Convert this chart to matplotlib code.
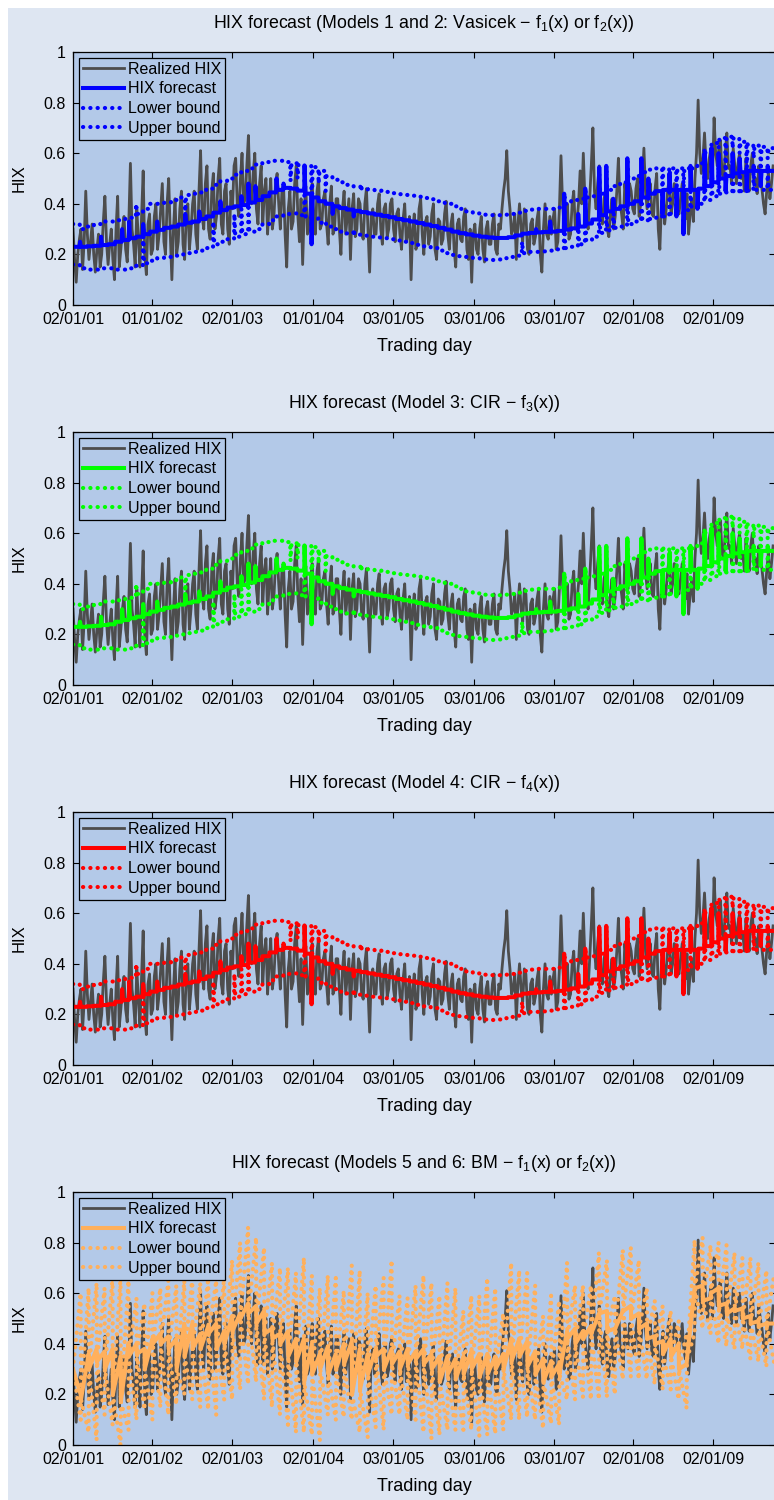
import numpy as np
import matplotlib
matplotlib.use('Agg')
import matplotlib.pyplot as plt
from matplotlib.patches import Rectangle

plt.rcParams['font.family'] = ['Liberation Sans', 'DejaVu Sans']
plt.rcParams['mathtext.fontset'] = 'custom'
plt.rcParams['mathtext.rm'] = 'Liberation Sans'
plt.rcParams['mathtext.it'] = 'Liberation Sans'
plt.rcParams['mathtext.default'] = 'regular'

## realized HIX, read every 10 trading days (day 0, 10, 20, ...) ...
hix = [
    0.30, 0.09, 0.26, 0.14, 0.45, 0.18, 0.32, 0.13, 0.28, 0.20, 0.43, 0.16, 0.30, 0.10, 0.43, 0.22, 0.35, 0.17, 0.56, 0.24, 0.38, 0.15, 0.53, 0.12, 0.36,
    0.22, 0.40, 0.28, 0.48, 0.20, 0.50, 0.10, 0.42, 0.25, 0.45, 0.18, 0.40, 0.30, 0.45, 0.22, 0.61, 0.30, 0.55, 0.26, 0.52, 0.35, 0.58, 0.28, 0.48, 0.24,
    0.38, 0.58, 0.35, 0.60, 0.42, 0.67, 0.40, 0.60, 0.32, 0.55, 0.45, 0.28, 0.50, 0.35, 0.52, 0.30, 0.48, 0.15, 0.45, 0.33, 0.55, 0.25, 0.16, 0.47, 0.30,
    0.48, 0.28, 0.50, 0.32, 0.45, 0.24, 0.47, 0.30, 0.42, 0.20, 0.45, 0.35, 0.18, 0.44, 0.30, 0.40, 0.26, 0.46, 0.13, 0.38, 0.28, 0.44, 0.24, 0.40, 0.30,
    0.42, 0.25, 0.38, 0.22, 0.40, 0.28, 0.10, 0.36, 0.24, 0.42, 0.20, 0.35, 0.27, 0.40, 0.18, 0.33, 0.26, 0.41, 0.22, 0.36, 0.15, 0.34, 0.25, 0.38, 0.18,
    0.09, 0.32, 0.20, 0.35, 0.17, 0.33, 0.24, 0.36, 0.20, 0.30, 0.45, 0.61, 0.38, 0.30, 0.18, 0.40, 0.25, 0.36, 0.20, 0.34, 0.27, 0.38, 0.13, 0.40, 0.26,
    0.28, 0.38, 0.25, 0.59, 0.30, 0.40, 0.28, 0.45, 0.33, 0.53, 0.60, 0.35, 0.42, 0.70, 0.38, 0.55, 0.32, 0.45, 0.27, 0.42, 0.35, 0.58, 0.36, 0.48, 0.38,
    0.45, 0.36, 0.50, 0.40, 0.62, 0.38, 0.48, 0.35, 0.52, 0.22, 0.45, 0.38, 0.50, 0.40, 0.46, 0.36, 0.48, 0.34, 0.28, 0.42, 0.50, 0.81, 0.52, 0.68, 0.50,
    0.62, 0.74, 0.55, 0.65, 0.50, 0.68, 0.55, 0.62, 0.48, 0.60, 0.52, 0.58, 0.45, 0.60, 0.50, 0.55, 0.46, 0.36, 0.52, 0.48,
]
## ... and the values in between (day 5, 15, 25, ...)
hix_mid = [
    0.18, 0.20, 0.30, 0.25, 0.28, 0.25, 0.20, 0.22, 0.15, 0.33, 0.25, 0.24, 0.18, 0.30, 0.15, 0.30, 0.22, 0.33, 0.30, 0.15, 0.26, 0.35, 0.20, 0.32, 0.20,
    0.35, 0.22, 0.38, 0.25, 0.40, 0.28, 0.30, 0.20, 0.38, 0.24, 0.35, 0.22, 0.40, 0.28, 0.45, 0.35, 0.48, 0.30, 0.45, 0.30, 0.50, 0.32, 0.45, 0.30, 0.45,
    0.55, 0.40, 0.50, 0.40, 0.55, 0.45, 0.52, 0.38, 0.48, 0.32, 0.50, 0.40, 0.30, 0.48, 0.40, 0.45, 0.28, 0.38, 0.30, 0.48, 0.35, 0.42, 0.38, 0.28, 0.42,
    0.35, 0.45, 0.30, 0.42, 0.32, 0.40, 0.28, 0.42, 0.30, 0.38, 0.28, 0.42, 0.38, 0.27, 0.42, 0.28, 0.40, 0.30, 0.35, 0.28, 0.40, 0.30, 0.38, 0.27, 0.40,
    0.30, 0.36, 0.28, 0.34, 0.25, 0.35, 0.30, 0.22, 0.38, 0.28, 0.33, 0.24, 0.36, 0.22, 0.34, 0.24, 0.36, 0.28, 0.32, 0.22, 0.32, 0.26, 0.35, 0.22, 0.30,
    0.28, 0.22, 0.30, 0.22, 0.30, 0.24, 0.32, 0.22, 0.32, 0.38, 0.50, 0.45, 0.28, 0.36, 0.32, 0.30, 0.38, 0.22, 0.32, 0.24, 0.34, 0.20, 0.30, 0.28, 0.35,
    0.34, 0.22, 0.38, 0.40, 0.36, 0.26, 0.40, 0.30, 0.40, 0.40, 0.42, 0.30, 0.55, 0.45, 0.48, 0.35, 0.42, 0.30, 0.36, 0.30, 0.45, 0.40, 0.30, 0.42, 0.48,
    0.38, 0.46, 0.35, 0.48, 0.45, 0.44, 0.36, 0.46, 0.30, 0.40, 0.32, 0.46, 0.36, 0.48, 0.38, 0.42, 0.38, 0.44, 0.36, 0.33, 0.60, 0.60, 0.58, 0.55, 0.58,
    0.50, 0.60, 0.62, 0.52, 0.60, 0.54, 0.48, 0.55, 0.56, 0.50, 0.45, 0.50, 0.55, 0.48, 0.44, 0.50, 0.40, 0.45, 0.42, 0.55,
]
HIX_STEP = 10

## Vasicek / CIR forecasts, one 22-day forecast window each
fc_start = [
    0.23, 0.25, 0.232, 0.234, 0.27, 0.24, 0.25, 0.30, 0.33, 0.27,
    0.32, 0.29, 0.33, 0.305, 0.31, 0.318, 0.36, 0.33, 0.37, 0.35,
    0.365, 0.41, 0.385, 0.39, 0.43, 0.48, 0.47, 0.43, 0.445, 0.50,
    0.48, 0.46, 0.452, 0.55, 0.24, 0.41, 0.40, 0.36, 0.383, 0.377,
    0.35, 0.367, 0.362, 0.357, 0.352, 0.347, 0.34, 0.335, 0.33, 0.324,
    0.318, 0.312, 0.305, 0.298, 0.29, 0.284, 0.279, 0.274, 0.27, 0.267,
    0.265, 0.265, 0.268, 0.275, 0.282, 0.285, 0.30, 0.289, 0.33, 0.293,
    0.44, 0.303, 0.36, 0.46, 0.338, 0.545, 0.55, 0.42, 0.39, 0.58,
    0.41, 0.58, 0.50, 0.45, 0.36, 0.52, 0.35, 0.28, 0.55, 0.38,
    0.60, 0.62, 0.60, 0.45, 0.60, 0.58, 0.45, 0.55, 0.47, 0.55,
]
fc_base = [
    0.230, 0.230, 0.232, 0.234, 0.237, 0.240, 0.250, 0.257, 0.264, 0.270,
    0.280, 0.290, 0.297, 0.305, 0.310, 0.318, 0.325, 0.330, 0.340, 0.350,
    0.365, 0.375, 0.385, 0.390, 0.395, 0.405, 0.415, 0.430, 0.445, 0.455,
    0.463, 0.460, 0.452, 0.440, 0.425, 0.410, 0.400, 0.390, 0.383, 0.377,
    0.372, 0.367, 0.362, 0.357, 0.352, 0.347, 0.340, 0.335, 0.330, 0.324,
    0.318, 0.312, 0.305, 0.298, 0.290, 0.284, 0.279, 0.274, 0.270, 0.267,
    0.265, 0.265, 0.268, 0.275, 0.282, 0.285, 0.287, 0.289, 0.290, 0.293,
    0.298, 0.303, 0.310, 0.322, 0.338, 0.355, 0.370, 0.380, 0.390, 0.400,
    0.410, 0.425, 0.440, 0.450, 0.455, 0.455, 0.455, 0.455, 0.455, 0.460,
    0.470, 0.485, 0.500, 0.510, 0.520, 0.525, 0.530, 0.530, 0.530, 0.530,
]
up_base = [
    0.320, 0.300, 0.310, 0.320, 0.330, 0.330, 0.335, 0.340, 0.345, 0.360,
    0.380, 0.400, 0.400, 0.405, 0.415, 0.425, 0.435, 0.440, 0.445, 0.460,
    0.475, 0.490, 0.500, 0.515, 0.530, 0.540, 0.555, 0.565, 0.570, 0.570,
    0.565, 0.560, 0.555, 0.550, 0.545, 0.530, 0.510, 0.495, 0.485, 0.475,
    0.468, 0.462, 0.457, 0.452, 0.447, 0.442, 0.438, 0.435, 0.432, 0.428,
    0.423, 0.418, 0.410, 0.400, 0.390, 0.380, 0.370, 0.362, 0.357, 0.355,
    0.355, 0.357, 0.360, 0.365, 0.372, 0.377, 0.380, 0.380, 0.380, 0.385,
    0.400, 0.415, 0.420, 0.425, 0.430, 0.440, 0.455, 0.470, 0.485, 0.500,
    0.510, 0.525, 0.535, 0.540, 0.540, 0.540, 0.540, 0.540, 0.540, 0.560,
    0.600, 0.640, 0.660, 0.665, 0.660, 0.645, 0.635, 0.630, 0.625, 0.620,
]
lo_base = [
    0.160, 0.145, 0.140, 0.140, 0.145, 0.145, 0.140, 0.140, 0.145, 0.155,
    0.165, 0.175, 0.185, 0.190, 0.195, 0.200, 0.205, 0.210, 0.215, 0.225,
    0.240, 0.250, 0.260, 0.270, 0.280, 0.290, 0.300, 0.320, 0.335, 0.350,
    0.360, 0.362, 0.355, 0.350, 0.342, 0.325, 0.310, 0.300, 0.290, 0.283,
    0.278, 0.274, 0.270, 0.267, 0.264, 0.260, 0.255, 0.250, 0.245, 0.238,
    0.232, 0.225, 0.215, 0.205, 0.198, 0.193, 0.190, 0.185, 0.180, 0.178,
    0.180, 0.185, 0.190, 0.195, 0.205, 0.210, 0.210, 0.212, 0.215, 0.220,
    0.225, 0.230, 0.240, 0.255, 0.270, 0.285, 0.295, 0.305, 0.310, 0.320,
    0.330, 0.335, 0.340, 0.345, 0.350, 0.360, 0.370, 0.375, 0.385, 0.400,
    0.415, 0.430, 0.440, 0.445, 0.447, 0.450, 0.452, 0.455, 0.455, 0.455,
]
# windows where the bounds start away from their usual level
jump_win = [9, 10, 16, 20, 23, 24, 25, 31, 32, 33, 34, 35, 36, 40, 41, 64, 70, 72, 73, 75,
            76, 77, 79, 81, 82, 84, 85, 86, 87, 88, 90, 91, 92, 93, 94, 95, 96, 97, 98, 99]
jump_up = [0.40, 0.38, 0.37, 0.475, 0.515, 0.53, 0.54, 0.49, 0.50, 0.55, 0.25, 0.48, 0.45, 0.468, 0.45, 0.372, 0.44, 0.42, 0.46, 0.52,
           0.55, 0.47, 0.58, 0.58, 0.535, 0.45, 0.50, 0.44, 0.45, 0.55, 0.62, 0.64, 0.62, 0.50, 0.62, 0.60, 0.50, 0.58, 0.52, 0.58]
jump_lo = [0.155, 0.30, 0.205, 0.33, 0.36, 0.38, 0.40, 0.362, 0.355, 0.55, 0.342, 0.325, 0.33, 0.30, 0.274, 0.25, 0.44, 0.32, 0.40, 0.50,
           0.48, 0.42, 0.50, 0.50, 0.48, 0.45, 0.46, 0.44, 0.29, 0.45, 0.58, 0.60, 0.56, 0.445, 0.58, 0.55, 0.452, 0.54, 0.455, 0.53]
WIN = 22

## BM forecasts, 25-day windows: forecast at start/end, bounds at end
bm_start = [
    0.30, 0.18, 0.30, 0.33, 0.30, 0.20, 0.17, 0.35, 0.36, 0.30,
    0.40, 0.40, 0.38, 0.30, 0.35, 0.38, 0.38, 0.44, 0.38, 0.40,
    0.45, 0.50, 0.52, 0.48, 0.44, 0.42, 0.40, 0.35, 0.33, 0.25,
    0.28, 0.30, 0.28, 0.30, 0.32, 0.20, 0.22, 0.28, 0.35, 0.30,
    0.32, 0.30, 0.32, 0.34, 0.32, 0.30, 0.25, 0.28, 0.26, 0.28,
    0.30, 0.27, 0.28, 0.30, 0.30, 0.33, 0.35, 0.31, 0.28, 0.25,
    0.27, 0.28, 0.42, 0.40, 0.42, 0.44, 0.52, 0.45, 0.46, 0.53,
    0.50, 0.46, 0.42, 0.40, 0.36, 0.35, 0.30, 0.34, 0.62, 0.57,
    0.60, 0.55, 0.52, 0.53, 0.50, 0.48, 0.47, 0.48,
]
bm_end = [
    0.20, 0.36, 0.38, 0.37, 0.38, 0.35, 0.40, 0.40, 0.38, 0.42,
    0.44, 0.43, 0.42, 0.48, 0.48, 0.44, 0.47, 0.48, 0.45, 0.51,
    0.52, 0.56, 0.55, 0.53, 0.46, 0.44, 0.45, 0.42, 0.42, 0.40,
    0.36, 0.39, 0.36, 0.40, 0.41, 0.38, 0.36, 0.38, 0.38, 0.38,
    0.37, 0.38, 0.37, 0.38, 0.36, 0.35, 0.35, 0.34, 0.35, 0.37,
    0.36, 0.36, 0.35, 0.36, 0.42, 0.42, 0.41, 0.37, 0.34, 0.33,
    0.32, 0.45, 0.46, 0.45, 0.47, 0.52, 0.53, 0.46, 0.53, 0.55,
    0.52, 0.48, 0.43, 0.41, 0.42, 0.40, 0.32, 0.62, 0.63, 0.58,
    0.62, 0.56, 0.54, 0.54, 0.51, 0.49, 0.48, 0.48,
]
bm_up = [
    0.60, 0.62, 0.64, 0.62, 0.66, 0.66, 0.65, 0.58, 0.56, 0.60,
    0.62, 0.65, 0.63, 0.65, 0.66, 0.64, 0.66, 0.65, 0.66, 0.73,
    0.80, 0.86, 0.82, 0.78, 0.72, 0.70, 0.70, 0.68, 0.74, 0.67,
    0.62, 0.67, 0.66, 0.61, 0.71, 0.69, 0.60, 0.63, 0.66, 0.73,
    0.59, 0.58, 0.63, 0.67, 0.64, 0.59, 0.64, 0.62, 0.53, 0.59,
    0.59, 0.66, 0.62, 0.52, 0.72, 0.69, 0.68, 0.63, 0.51, 0.59,
    0.57, 0.72, 0.63, 0.63, 0.63, 0.76, 0.73, 0.59, 0.77, 0.78,
    0.73, 0.62, 0.57, 0.55, 0.53, 0.49, 0.44, 0.81, 0.82, 0.79,
    0.80, 0.79, 0.76, 0.74, 0.74, 0.72, 0.69, 0.68,
]
bm_lo = [
    0.10, 0.05, 0.02, 0.12, 0.08, 0.00, 0.06, 0.10, 0.14, 0.10,
    0.15, 0.12, 0.16, 0.20, 0.18, 0.15, 0.14, 0.12, 0.18, 0.18,
    0.22, 0.24, 0.25, 0.18, 0.15, 0.12, 0.08, 0.05, 0.05, 0.04,
    0.02, 0.12, 0.10, 0.11, 0.10, 0.05, 0.03, 0.07, 0.06, 0.12,
    0.12, 0.10, 0.10, 0.05, 0.025, 0.04, 0.06, 0.06, 0.06, 0.06,
    0.035, 0.04, 0.045, 0.06, 0.10, 0.10, 0.11, 0.10, 0.065, 0.085,
    0.08, 0.18, 0.18, 0.19, 0.18, 0.18, 0.19, 0.20, 0.26, 0.27,
    0.26, 0.26, 0.24, 0.22, 0.22, 0.18, 0.145, 0.44, 0.46, 0.44,
    0.40, 0.39, 0.38, 0.38, 0.34, 0.33, 0.31, 0.32,
]
BM_WIN = 25

tick_days = [0, 248, 499, 753, 1004, 1258, 1509, 1757, 2008]
labels_a = ['02/01/01', '01/01/02', '02/01/03', '01/01/04', '03/01/05', '03/01/06', '03/01/07', '02/01/08', '02/01/09']
labels_b = ['02/01/01', '02/01/02', '02/01/03', '02/01/04', '03/01/05', '03/01/06', '03/01/07', '02/01/08', '02/01/09']

titles = ['HIX forecast (Models 1 and 2: Vasicek \u2212 $f_1$(x) or $f_2$(x))',
          'HIX forecast (Model 3: CIR \u2212 $f_3$(x))',
          'HIX forecast (Model 4: CIR \u2212 $f_4$(x))',
          'HIX forecast (Models 5 and 6: BM \u2212 $f_1$(x) or $f_2$(x))']
colors = ['#0000ff', '#00ff00', '#ff0000', '#ffb05c']
BG = '#dee6f2'
AXBG = '#b3c9e8'
GRAY = '#4d4d4d'
DOT = dict(ls=(0, (0.05, 1.7)), lw=3.0, dash_capstyle='round')


def window_path(start, level, win):
    # each forecast window: starts at `start`, settles at `level` after 3 days
    d = np.arange(len(level)) * win
    x = np.column_stack([d, d + 3, d + win - 1]).ravel()
    y = np.column_stack([start, level, level]).ravel()
    return x, y


def ramp_path(start, end, win):
    d = np.arange(len(end)) * win
    x = np.column_stack([d, d + win - 1]).ravel()
    y = np.column_stack([start, end]).ravel()
    return x, y


up_start = np.array(up_base)
up_start[jump_win] = jump_up
lo_start = np.array(lo_base)
lo_start[jump_win] = jump_lo
hix_day = np.arange(2 * len(hix)) * HIX_STEP / 2
hix_all = np.column_stack([hix, hix_mid]).ravel()

fig = plt.figure(figsize=(7.74, 15.0), dpi=100)
fig.patches.append(Rectangle((8 / 774, 0), 1, 1 - 8 / 1500, transform=fig.transFigure,
                             facecolor=BG, edgecolor='none', zorder=-10))

tops = [52, 432, 812, 1192]
for k in range(4):
    ax = fig.add_axes([73 / 774, 1 - (tops[k] + 253) / 1500, 702 / 774, 253 / 1500])
    ax.set_facecolor(AXBG)
    c = colors[k]
    ax.plot(hix_day, hix_all, color=GRAY, lw=2.0, label='Realized HIX')
    if k < 3:
        x, y = window_path(fc_start, fc_base, WIN)
        ax.plot(x, y, color=c, lw=2.9, label='HIX forecast')
        x, y = window_path(lo_start, lo_base, WIN)
        ax.plot(x, y, color=c, label='Lower bound', **DOT)
        x, y = window_path(up_start, up_base, WIN)
        ax.plot(x, y, color=c, label='Upper bound', **DOT)
    else:
        x, y = ramp_path(bm_start, bm_end, BM_WIN)
        ax.plot(x, y, color=c, lw=2.9, label='HIX forecast')
        x, y = ramp_path(bm_start, bm_lo, BM_WIN)
        ax.plot(x, y, color=c, label='Lower bound', **DOT)
        x, y = ramp_path(bm_start, bm_up, BM_WIN)
        ax.plot(x, y, color=c, label='Upper bound', **DOT)

    ax.set_xlim(0, 2201)
    ax.set_ylim(0, 1)
    ax.set_xticks(tick_days)
    ax.set_xticklabels(labels_a if k == 0 else labels_b)
    ax.set_yticks([0, 0.2, 0.4, 0.6, 0.8, 1])
    ax.set_yticklabels(['0', '0.2', '0.4', '0.6', '0.8', '1'])
    ax.tick_params(direction='in', length=4, width=0.8, top=True, right=True,
                   labelsize=11.5, pad=5)
    for s in ax.spines.values():
        s.set_linewidth(0.9)
    ax.set_title(titles[k], fontsize=12.8, pad=17)
    ax.set_xlabel('Trading day', fontsize=13, labelpad=8)
    ax.set_ylabel('HIX', fontsize=12, labelpad=12)
    leg = ax.legend(loc='upper left', fancybox=False, edgecolor='black', facecolor=AXBG,
                    framealpha=1, fontsize=11.5, handlelength=2.6, handletextpad=0.25,
                    labelspacing=0.3, borderpad=0.25, borderaxespad=0.35)
    leg.get_frame().set_linewidth(0.9)

plt.savefig('out.png', dpi=100)
plt.close()
